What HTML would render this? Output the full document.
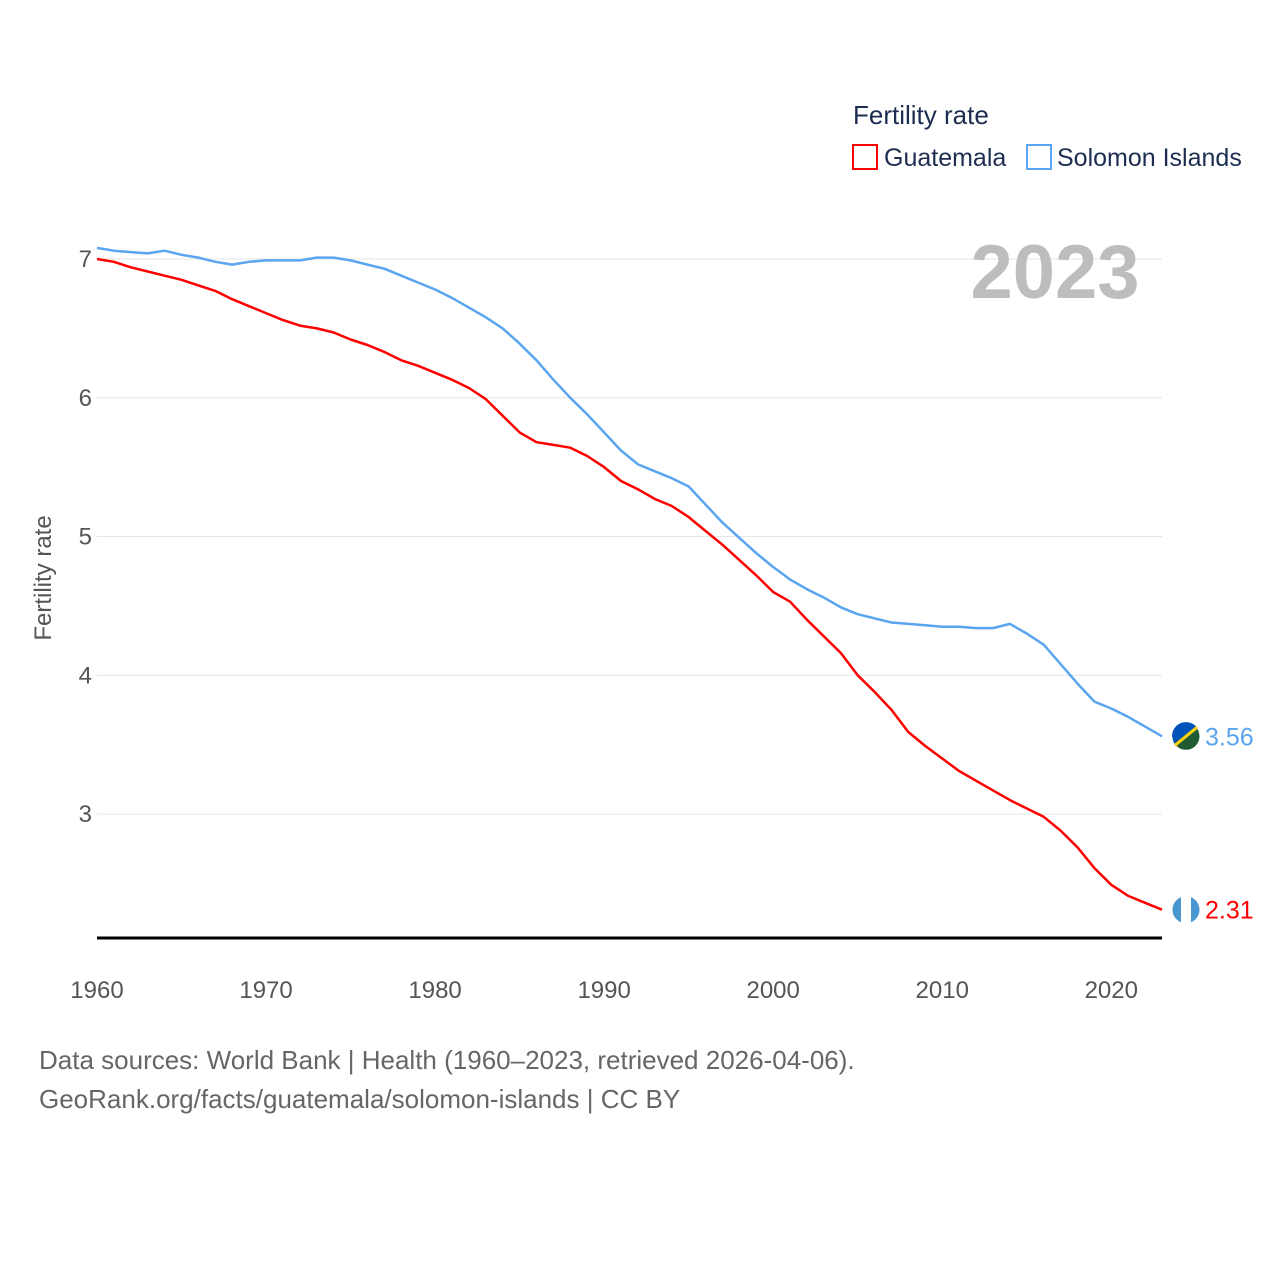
<!DOCTYPE html>
<html><head><meta charset="utf-8">
<style>
body{margin:0;background:#fff;font-family:"Liberation Sans",sans-serif;}
svg text{font-family:"Liberation Sans",sans-serif;}
</style></head>
<body>
<svg id="chart" width="1280" height="1280" viewBox="0 0 1280 1280">
  <g id="grid"></g>
  <g id="yticks"></g>
  <g id="xticks"></g>
  <text x="1055" y="298" font-size="76" font-weight="bold" fill="#bdbdbd" text-anchor="middle">2023</text>
  <text transform="translate(51,578) rotate(-90)" font-size="24" fill="#555" text-anchor="middle">Fertility rate</text>
  <line x1="97" x2="1162" y1="938" y2="938" stroke="#000" stroke-width="3"/>
  <g id="series"></g>
  <g>
    <text x="853" y="124" font-size="26" fill="#1d2d50">Fertility rate</text>
    <rect x="853" y="145" width="24" height="24" fill="none" stroke="#f00" stroke-width="2"/>
    <text x="884" y="166" font-size="25" fill="#1d2d50">Guatemala</text>
    <rect x="1027" y="145" width="24" height="24" fill="none" stroke="#5aa5ef" stroke-width="2"/>
    <text x="1057" y="166" font-size="25" fill="#1d2d50">Solomon Islands</text>
  </g>
  <text x="39" y="1069" font-size="26" fill="#666">Data sources: World Bank | Health (1960–2023, retrieved 2026-04-06).</text>
  <text x="39" y="1108" font-size="26" fill="#666">GeoRank.org/facts/guatemala/solomon-islands | CC BY</text>
</svg>
<script>
const years = [];
for (let y = 1960; y <= 2023; y++) years.push(y);
const guatemala = [7.00,6.98,6.94,6.91,6.88,6.85,6.81,6.77,6.71,6.66,6.61,6.56,6.52,6.50,6.47,6.42,6.38,6.33,6.27,6.23,6.18,6.13,6.07,5.99,5.87,5.75,5.68,5.66,5.64,5.58,5.50,5.40,5.34,5.27,5.22,5.14,5.04,4.94,4.83,4.72,4.60,4.53,4.40,4.28,4.16,4.00,3.88,3.75,3.59,3.49,3.40,3.31,3.24,3.17,3.10,3.04,2.98,2.88,2.76,2.61,2.49,2.41,2.36,2.31];
const solomon = [7.08,7.06,7.05,7.04,7.06,7.03,7.01,6.98,6.96,6.98,6.99,6.99,6.99,7.01,7.01,6.99,6.96,6.93,6.88,6.83,6.78,6.72,6.65,6.58,6.50,6.39,6.27,6.13,6.00,5.88,5.75,5.62,5.52,5.47,5.42,5.36,5.23,5.10,4.99,4.88,4.78,4.69,4.62,4.56,4.49,4.44,4.41,4.38,4.37,4.36,4.35,4.35,4.34,4.34,4.37,4.30,4.22,4.08,3.94,3.81,3.76,3.70,3.63,3.56];
const yTicks = [3,4,5,6,7];
const xTicks = [1960,1970,1980,1990,2000,2010,2020];
const NS = "http://www.w3.org/2000/svg";
const xs = v => 97 + (v - 1960) * (1162 - 97) / 63;
const ys = v => 259 + (7 - v) * (814 - 259) / 4;
function mk(tag, attrs, parent) {
  const e = document.createElementNS(NS, tag);
  for (const k in attrs) e.setAttribute(k, attrs[k]);
  parent.appendChild(e);
  return e;
}
const grid = document.getElementById('grid'), yt = document.getElementById('yticks'), xt = document.getElementById('xticks'), ser = document.getElementById('series');
yTicks.forEach(v => {
  const l = mk('line', {x1: 97, x2: 1162, y1: ys(v), y2: ys(v), stroke: '#e6e6e6', 'stroke-width': 1}, grid);
  
  
  const t = mk('text', {x: 92, y: ys(v) + 8, 'font-size': 24, fill: '#555', 'text-anchor': 'end'}, yt);
  t.textContent = v;
  
  
});
xTicks.forEach(v => {
  const t = mk('text', {x: xs(v), y: 998, 'font-size': 24, fill: '#555', 'text-anchor': 'middle'}, xt);
  t.textContent = v;
  
  
});
function drawSeries(vals, color, name) {
  const d = vals.map((v, i) => (i ? 'L' : 'M') + xs(years[i]).toFixed(1) + ',' + ys(v).toFixed(1)).join(' ');
  const p = mk('path', {d: d, fill: 'none', stroke: color, 'stroke-width': 2.5, 'stroke-linejoin': 'round'}, ser);
  
  
  const last = vals[vals.length - 1];
  const c = mk('circle', {cx: 1186, cy: ys(last), r: 14, fill: name === 'guatemala' ? '#4997d0' : '#215b33', stroke: '#fff', 'stroke-width': 1}, ser);
  
  
  if (name === 'guatemala') {
    const r = mk('rect', {x: 1181, y: ys(last) - 14, width: 10, height: 28, fill: '#fff'}, ser);
    
    
  } else {
    const pth = mk('path', {d: 'M1172,' + (ys(last)) + ' A14,14 0 0 1 1196,' + (ys(last) - 10) + ' L1174,' + (ys(last) + 7) + ' Z', fill: '#0051ba'}, ser);
    
    
    const ln = mk('line', {x1: 1175, y1: ys(last) + 9, x2: 1197, y2: ys(last) - 9, stroke: '#fcd116', 'stroke-width': 3}, ser);
    
    
  }
  const t = mk('text', {x: 1205, y: ys(last) + 9, 'font-size': 25, fill: color}, ser);
  t.textContent = last.toFixed(2);
  
  
}
drawSeries(solomon, '#5aa5ef', 'solomon-islands');
drawSeries(guatemala, '#f00', 'guatemala');
</script>
</body></html>
